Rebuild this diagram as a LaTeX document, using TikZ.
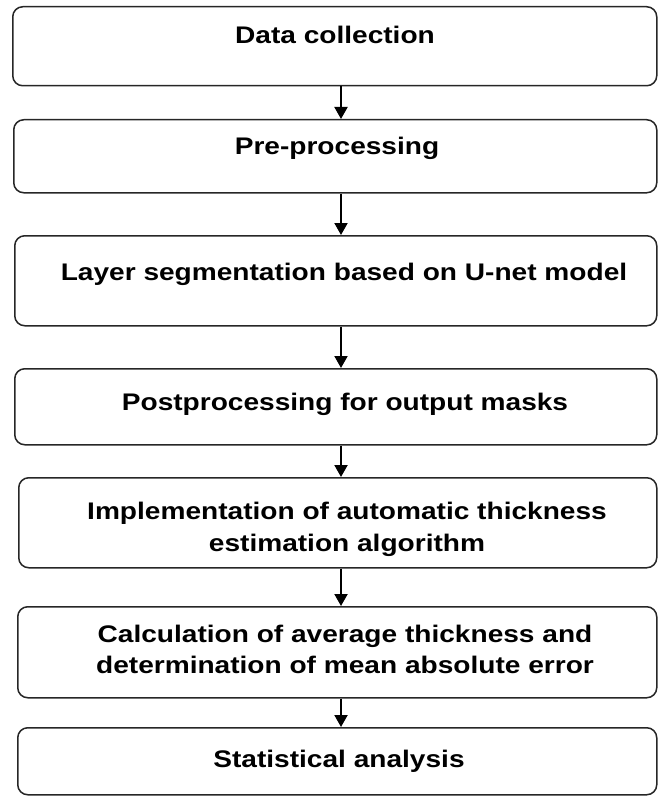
\documentclass[tikz,border=0pt]{standalone}
\usepackage{fontspec}
\setmainfont{Liberation Sans}[FakeStretch=1.17]
\usetikzlibrary{arrows.meta}
\begin{document}
\begin{tikzpicture}[x=1pt,y=-1pt,
  box/.style={draw=black!85,line width=1.5pt,rounded corners=10pt,inner sep=0pt,anchor=north west},
  lbl/.style={font=\fontsize{24}{31}\selectfont\bfseries,anchor=base,inner sep=0pt},
  arr/.style={line width=2pt,-{Triangle[length=12pt,width=13pt]}}]
\useasboundingbox (0,0) rectangle (657,797);
\node[box,minimum width=644,minimum height=79] (b1) at (12,6) {};
\node[box,minimum width=643,minimum height=73] (b2) at (13,119) {};
\node[box,minimum width=642,minimum height=90] (b3) at (14,235) {};
\node[box,minimum width=642,minimum height=76] (b4) at (14,368) {};
\node[box,minimum width=638,minimum height=90] (b5) at (18,477) {};
\node[box,minimum width=639,minimum height=91] (b6) at (17,606) {};
\node[box,minimum width=639,minimum height=67] (b7) at (17,727) {};
\node[lbl] (t1) at (335,44) {Data collection};
\node[lbl] (t2) at (337,154) {Pre-processing};
\node[lbl] (t3) at (344,280) {Layer segmentation based on U-net model};
\node[lbl] (t4) at (345,410) {Postprocessing for output masks};
\node[lbl] (t5a) at (347,519) {Implementation of automatic thickness};
\node[lbl] (t5b) at (347,551) {estimation algorithm};
\node[lbl] (t6a) at (345,642) {Calculation of average thickness and};
\node[lbl] (t6b) at (345,673) {determination of mean absolute error};
\node[lbl] (t7) at (339,767) {Statistical analysis};
\coordinate (ax) at (341,0);
\draw[arr] (b1.south -| ax) -- (b2.north -| ax);
\draw[arr] (b2.south -| ax) -- (b3.north -| ax);
\draw[arr] (b3.south -| ax) -- (b4.north -| ax);
\draw[arr] (b4.south -| ax) -- (b5.north -| ax);
\draw[arr] (b5.south -| ax) -- (b6.north -| ax);
\draw[arr] (b6.south -| ax) -- (b7.north -| ax);
\end{tikzpicture}
\end{document}
